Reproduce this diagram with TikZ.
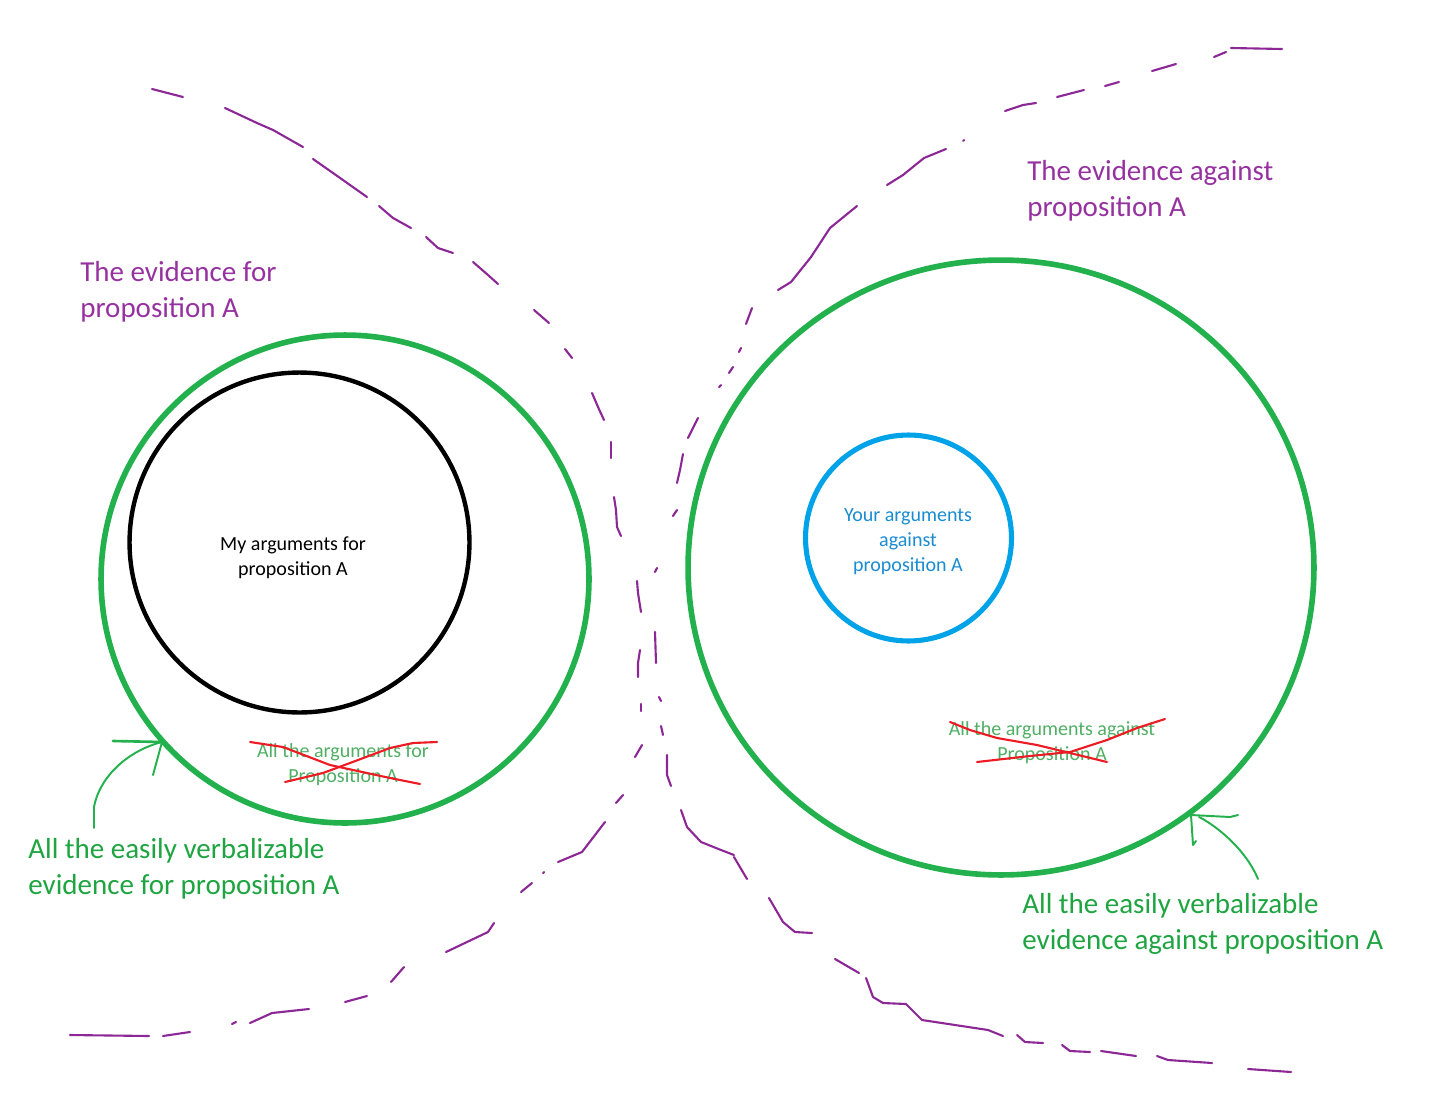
\documentclass[tikz,border=0pt]{standalone}
\usepackage{fontspec}
\setmainfont{Carlito}
\usetikzlibrary{shapes.geometric}
\definecolor{pdash}{RGB}{140,40,150}
\definecolor{ptext}{RGB}{150,50,160}
\definecolor{gcirc}{RGB}{34,177,76}
\definecolor{gtext}{RGB}{30,165,65}
\definecolor{gfade}{RGB}{80,175,100}
\definecolor{bcirc}{RGB}{0,162,232}
\definecolor{btext}{RGB}{25,140,210}
\definecolor{rcross}{RGB}{237,28,36}
\begin{document}
\begin{tikzpicture}[x=0.02cm,y=-0.02cm,
  ring/.style={draw, circle, inner sep=0pt},
  dashstroke/.style={draw=pdash, line width=1.2pt, line cap=round, line join=round},
  pointer/.style={draw=gcirc, line width=1.1pt, line cap=round, line join=round},
  crossline/.style={draw=rcross, line width=1.2pt, line cap=round, line join=round},
  biglabel/.style={font=\fontsize{16.5}{20.4}\selectfont, align=left, anchor=west, inner sep=0pt},
  smalllabel/.style={font=\fontsize{11.4}{14.2}\selectfont, align=center, inner sep=0pt}]
\fill[white] (0,0) rectangle (1456,1112);
\useasboundingbox (0,0) rectangle (1456,1112);

% circles
\node[ring, draw=gcirc, line width=3.2pt, minimum size=9.76cm] (greenL) at (345,579) {};
\node[ring, draw=black, line width=2.5pt, minimum size=6.8cm] (blackC) at (299.5,542.5) {};
\node[draw=gcirc, ellipse, inner sep=0pt, line width=3.2pt, minimum width=12.52cm, minimum height=12.3cm] (greenR) at (1001,567.5) {};
\node[ring, draw=bcirc, line width=2.9pt, minimum size=4.12cm] (blueC) at (908.5,538) {};

% texts
\node[smalllabel] (myargs) at (293,558) {My arguments for\\proposition A};
\node[smalllabel, text=btext] (yourargs) at (908,542) {Your arguments\\against\\proposition A};
\node[smalllabel, text=gfade] (allfor) at (343,765) {All the arguments for\\Proposition A};
\node[smalllabel, text=gfade] (allagainst) at (1052,743) {All the arguments against\\Proposition A};
\node[biglabel, text=ptext] (evfor) at (80,292) {The evidence for\\proposition A};
\node[biglabel, text=ptext] (evagainst) at (1027,191) {The evidence against\\proposition A};
\node[biglabel, text=gtext] (verbfor) at (28,869) {All the easily verbalizable\\evidence for proposition A};
\node[biglabel, text=gtext] (verbagainst) at (1022,924) {All the easily verbalizable\\evidence against proposition A};

% red crosses
\draw[crossline] (250,742) -- (283,747) -- (330,765) -- (390,778) -- (420,784);
\draw[crossline] (285,782) -- (323,773) -- (350,763) -- (390,748) -- (413,743) -- (437,742);
\draw[crossline] (950,722) -- (970,730) -- (997,738) -- (1037,745) -- (1070,753) -- (1107,762);
\draw[crossline] (977,762) -- (1030,756) -- (1070,752) -- (1107,740) -- (1137,728) -- (1165,719);

% green pointers
\coordinate (tipL) at (162,742);
\coordinate (tailL) at (94,828);
\draw[pointer, line width=1.5pt] (113,741) -- (tipL);
\draw[pointer] (tailL) -- (94,807) .. controls (100,775) and (130,750) .. (tipL);
\draw[pointer] (tipL) -- (153,775);
\coordinate (tipR) at (1191,815);
\coordinate (tailR) at (1258,879);
\draw[pointer] (tipR) -- (1230,817) -- (1238,815);
\draw[pointer] (tipR) -- (1193,845) -- (1196,841);
\draw[pointer] (tailR) .. controls (1245,848) and (1215,825) .. (1199,817);

% left purple boundary
\draw[dashstroke] (152,89) -- (183,97);
\draw[dashstroke] (225,108) -- (257,123) -- (273,130) -- (303,147);
\draw[dashstroke] (313,159) -- (333,173) -- (367,197);
\draw[dashstroke] (379,206) -- (393,218) -- (411,228);
\draw[dashstroke] (426,237) -- (438,248) -- (453,253);
\draw[dashstroke] (473,262) -- (488,275) -- (498,284);
\draw[dashstroke] (534,310) -- (549,323);
\draw[dashstroke] (565,349) -- (572,358);
\draw[dashstroke] (592,393) -- (598,407) -- (604,420);
\draw[dashstroke] (611,442) -- (611,458);
\draw[dashstroke] (614,497) -- (616,510) -- (617,527) -- (621,536);
\draw[dashstroke] (637,581) -- (638,593) -- (641,612);
\draw[dashstroke] (640,650) -- (638,663) -- (638,677);
\draw[dashstroke] (641,704) -- (641,711);
\draw[dashstroke] (642,745) -- (635,757);
\draw[dashstroke] (623,795) -- (616,803);
\draw[dashstroke] (605,822) -- (582,852) -- (558,862);
\draw[dashstroke] (543,873) -- (544,872);
\draw[dashstroke] (532,883) -- (521,892);
\draw[dashstroke] (494,923) -- (488,932) -- (446,952);
\draw[dashstroke] (404,967) -- (391,982);
\draw[dashstroke] (367,996) -- (345,1002);
\draw[dashstroke] (309,1009) -- (272,1013) -- (250,1023);
\draw[dashstroke] (236,1022) -- (232,1024);
\draw[dashstroke] (190,1032) -- (163,1036);
\draw[dashstroke] (70,1035) -- (149,1036);

% right purple boundary
\draw[dashstroke] (1231,48) -- (1282,49);
\draw[dashstroke] (1214,57) -- (1226,52);
\draw[dashstroke] (1152,71) -- (1176,64);
\draw[dashstroke] (1105,86) -- (1119,82);
\draw[dashstroke] (1057,97) -- (1084,90);
\draw[dashstroke] (1005,111) -- (1023,105) -- (1036,103);
\draw[dashstroke] (963,141) -- (964,140);
\draw[dashstroke] (887,185) -- (903,175) -- (924,158) -- (946,149);
\draw[dashstroke] (778,290) -- (791,282) -- (811,257) -- (830,228) -- (857,206);
\draw[dashstroke] (752,308) -- (746,324);
\draw[dashstroke] (741,348) -- (739,352);
\draw[dashstroke] (733,367) -- (729,373);
\draw[dashstroke] (721,385) -- (719,387);
\draw[dashstroke] (698,418) -- (688,438);
\draw[dashstroke] (683,454) -- (680,470) -- (677,483);
\draw[dashstroke] (677,510) -- (673,516);
\draw[dashstroke] (657,568) -- (655,572);
\draw[dashstroke] (655,632) -- (656,663);
\draw[dashstroke] (659,697) -- (661,701);
\draw[dashstroke] (661,726) -- (663,735);
\draw[dashstroke] (667,755) -- (667,775) -- (671,786);
\draw[dashstroke] (681,810) -- (687,827) -- (701,842) -- (721,850) -- (734,855);
\draw[dashstroke] (734,857) -- (747,879);
\draw[dashstroke] (769,898) -- (783,922) -- (795,932) -- (812,933);
\draw[dashstroke] (835,959) -- (859,973);
\draw[dashstroke] (866,978) -- (873,997) -- (883,1003) -- (906,1004) -- (922,1020) -- (988,1030) -- (1003,1036);
\draw[dashstroke] (1017,1035) -- (1025,1042) -- (1043,1043);
\draw[dashstroke] (1062,1045) -- (1070,1051) -- (1090,1052);
\draw[dashstroke] (1101,1051) -- (1136,1056);
\draw[dashstroke] (1157,1056) -- (1168,1060) -- (1212,1063);
\draw[dashstroke] (1248,1069) -- (1291,1072);
\end{tikzpicture}
\end{document}
